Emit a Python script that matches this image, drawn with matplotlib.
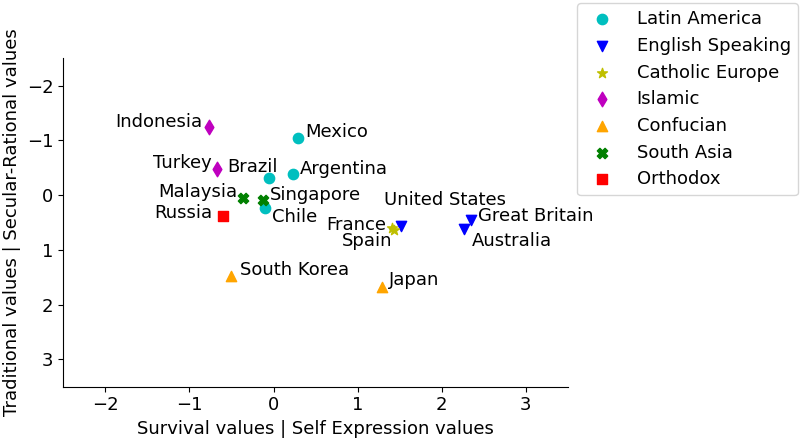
import matplotlib.pyplot as plt

# data
groups = ["Latin America", "English Speaking", "Catholic Europe", "Islamic",
          "Confucian", "South Asia", "Orthodox"]
markers = ["o", "v", "*", "d", "^", "X", "s"]
colors = ["c", "b", "y", "m", "orange", "g", "r"]

latin_names = ["Mexico", "Brazil", "Argentina", "Chile"]
latin_x = [0.29, -0.05, 0.23, -0.10]
latin_y = [-1.05, -0.31, -0.38, 0.23]

english_names = ["United States", "Great Britain", "Australia"]
english_x = [1.51, 2.35, 2.26]
english_y = [0.57, 0.46, 0.62]

catholic_names = ["France", "Spain"]
catholic_x = [1.41, 1.43]
catholic_y = [0.60, 0.64]

islamic_names = ["Indonesia", "Turkey"]
islamic_x = [-0.77, -0.67]
islamic_y = [-1.25, -0.47]

confucian_names = ["South Korea", "Japan"]
confucian_x = [-0.50, 1.29]
confucian_y = [1.47, 1.67]

southasia_names = ["Malaysia", "Singapore"]
southasia_x = [-0.36, -0.13]
southasia_y = [0.05, 0.08]

orthodox_names = ["Russia"]
orthodox_x = [-0.60]
orthodox_y = [0.38]

all_names = [latin_names, english_names, catholic_names, islamic_names,
             confucian_names, southasia_names, orthodox_names]
all_x = [latin_x, english_x, catholic_x, islamic_x, confucian_x, southasia_x, orthodox_x]
all_y = [latin_y, english_y, catholic_y, islamic_y, confucian_y, southasia_y, orthodox_y]

# label placement (offset in points, horizontal alignment)
offsets = {
    "Mexico": (5.5, 3.8, "left"), "Brazil": (-30, 8.4, "left"),
    "Argentina": (5, 4.1, "left"), "Chile": (5, -7, "left"),
    "United States": (-12, 19.2, "left"), "Great Britain": (4.8, 2.9, "left"),
    "Australia": (6, -8.4, "left"), "France": (-4.3, 2.4, "right"),
    "Spain": (-0.7, -7.9, "right"), "Indonesia": (-4.3, 3.4, "right"),
    "Turkey": (-3.6, 4.3, "right"), "South Korea": (6, 4.1, "left"),
    "Japan": (5, 4.8, "left"), "Malaysia": (-4.3, 4.5, "right"),
    "Singapore": (5.5, 3.6, "left"), "Russia": (-7.4, 2, "right"),
}

fig = plt.figure(figsize=(8, 4.42), dpi=100)
ax = fig.add_axes([0.079, 0.125, 0.631, 0.743])

for g, m, c, names, xs, ys in zip(groups, markers, colors, all_names, all_x, all_y):
    ax.scatter(xs, ys, marker=m, color=c, s=55, label=g, zorder=3)
    for n, x, y in zip(names, xs, ys):
        dx, dy, ha = offsets[n]
        ax.annotate(n, (x, y), xytext=(dx, dy), textcoords="offset points",
                    ha=ha, va="center", fontsize=13)

ax.set_xlim(-2.5, 3.5)
ax.set_ylim(3.5, -2.5)
ax.set_xticks([-2, -1, 0, 1, 2, 3])
ax.set_yticks([-2, -1, 0, 1, 2, 3])
ax.tick_params(labelsize=13)
ax.spines["top"].set_visible(False)
ax.spines["right"].set_visible(False)
ax.set_xlabel("Survival values | Self Expression values", fontsize=13)
ax.set_ylabel("Traditional values | Secular-Rational values", fontsize=13)

ax.legend(loc="upper left", bbox_to_anchor=(1.0, 1.196), fontsize=13,
          scatterpoints=1, handletextpad=0.9, labelspacing=0.48)

fig.savefig("out.png", dpi=100)
